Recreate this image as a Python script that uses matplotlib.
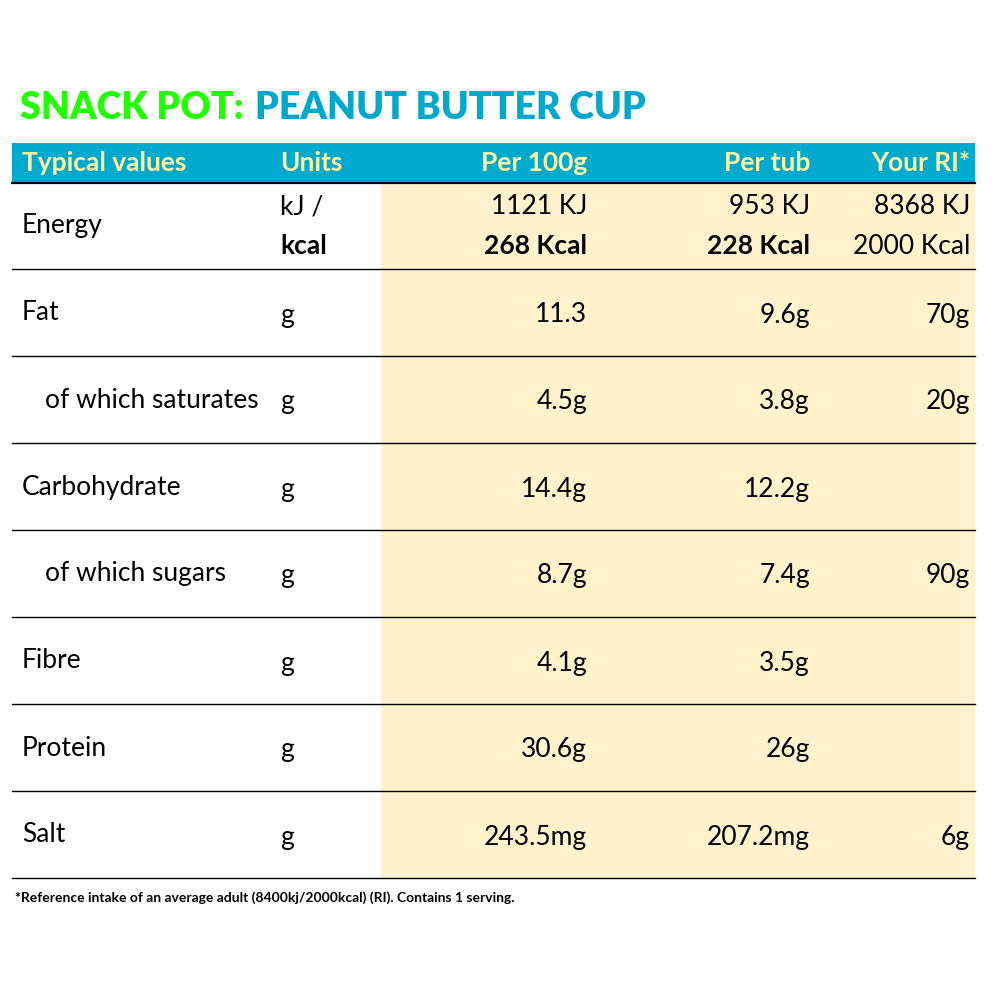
import matplotlib
matplotlib.use("Agg")
import matplotlib.pyplot as plt
from matplotlib.patches import Rectangle

headers = ["Typical values", "Units", "Per 100g", "Per tub", "Your RI*"]
nutrients = ["Fat", "of which saturates", "Carbohydrate", "of which sugars", "Fibre", "Protein", "Salt"]
units = ["g", "g", "g", "g", "g", "g", "g"]
per100 = ["11.3", "4.5g", "14.4g", "8.7g", "4.1g", "30.6g", "243.5mg"]
pertub = ["9.6g", "3.8g", "12.2g", "7.4g", "3.5g", "26g", "207.2mg"]
ri = ["70g", "20g", "", "90g", "", "", "6g"]
energy_kj = ["1121 KJ", "953 KJ", "8368 KJ"]
energy_kcal = ["268 Kcal", "228 Kcal", "2000 Kcal"]
indent = [False, True, False, True, False, False, False]

plt.rcParams['font.family'] = ['Lato', 'DejaVu Sans']
fig = plt.figure(figsize=(10, 10), dpi=100)
ax = fig.add_axes([0, 0, 1, 1])
ax.set_xlim(0, 1000); ax.set_ylim(1000, 0); ax.axis("off")

FS = 19
t1 = ax.text(20, 108, "SNACK POT:", color="#22FF00", fontsize=27, fontweight="heavy", va="center")
ax.annotate("PEANUT BUTTER CUP", xy=(1, 0.5), xycoords=t1, xytext=(8, 0), textcoords="offset points",
            color="#00A8CC", fontsize=27, fontweight="heavy", va="center")

ax.add_patch(Rectangle((12, 143), 963, 40, color="#00A9CE", lw=0))
ax.add_patch(Rectangle((381, 183), 594, 695, color="#FFF2CC", lw=0))
hx = [(22, "left"), (280, "left"), (587, "right"), (810, "right"), (970, "right")]
for (x, ha), h in zip(hx, headers):
    ax.text(x, 163, h, color="#FFF3A0", fontsize=FS, fontweight="bold", ha=ha, va="center")

lines = [183, 269, 356, 443, 530, 617, 704, 791, 878]
for y in lines:
    ax.plot([12, 975], [y, y], color="black", lw=1.6 if y == 183 else 1.0)

vx = [587, 810, 970]
ax.text(22, 226, "Energy", fontsize=FS, va="center")
ax.text(280, 207, "kJ /", fontsize=FS, va="center")
ax.text(280, 246, "kcal", fontsize=FS, va="center", fontweight="bold")
for i, x in enumerate(vx):
    ax.text(x, 207, energy_kj[i], fontsize=FS, va="center", ha="right")
    ax.text(x, 246, energy_kcal[i], fontsize=FS, va="center", ha="right",
            fontweight="bold" if i < 2 else "normal")

for i, n in enumerate(nutrients):
    yt = lines[i + 1] + 44
    yv = lines[i + 1] + 46
    ax.text(45 if indent[i] else 22, yt, n, fontsize=FS, va="center")
    ax.text(280, yv, units[i], fontsize=FS, va="center")
    for x, v in zip(vx, [per100[i], pertub[i], ri[i]]):
        ax.text(x, yv, v, fontsize=FS, va="center", ha="right")

ax.text(15, 898, "*Reference intake of an average adult (8400kj/2000kcal) (RI). Contains 1 serving.",
        fontsize=10, fontweight="bold", va="center")
fig.savefig("out.png")
